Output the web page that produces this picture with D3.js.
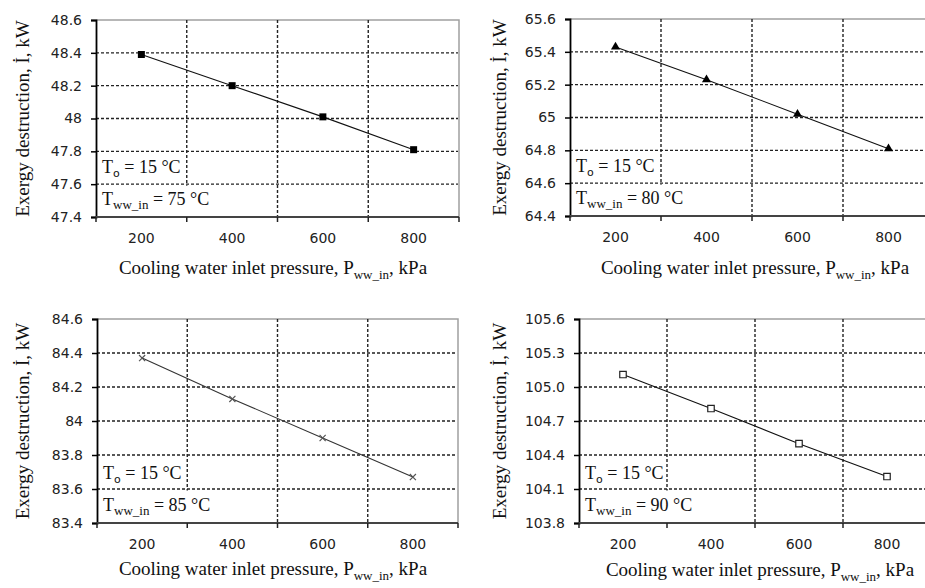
<!DOCTYPE html>
<html>
<head>
<meta charset="utf-8">
<script src="https://cdn.jsdelivr.net/npm/d3@7"></script>
<style>
  body { margin: 0; background: #fff; }
  svg { display: block; }
</style>
</head>
<body>
<svg></svg>
<script>
// pressures on the category axis, kPa
const pressures = ["200", "400", "600", "800"];

// exergy destruction (kW) for each cooling water inlet temperature
const exergy75 = [48.39, 48.20, 48.01, 47.81];
const exergy80 = [65.43, 65.23, 65.02, 64.81];
const exergy85 = [84.37, 84.13, 83.90, 83.67];
const exergy90 = [105.11, 104.81, 104.50, 104.21];

// y tick labels
const ticks75 = [47.4, 47.6, 47.8, 48, 48.2, 48.4, 48.6];
const ticks80 = [64.4, 64.6, 64.8, 65, 65.2, 65.4, 65.6];
const ticks85 = [83.4, 83.6, 83.8, 84, 84.2, 84.4, 84.6];
const ticks90 = [103.8, 104.1, 104.4, 104.7, 105.0, 105.3, 105.6];

const inletTemps = [75, 80, 85, 90];
const deadState = 15;

let width = 925,
  height = 588;

let svg = d3.select("svg").attr("width", width).attr("height", height);

let sans = "'DejaVu Sans', Verdana, sans-serif";
let serif = "'Liberation Serif', 'Times New Roman', serif";

let generalFmt = (d) => String(+d.toFixed(1));

// layout of the four panels
let panels = [
  { values: exergy75, ticks: ticks75, temp: inletTemps[0], fmt: generalFmt,
    left: 96, top: 20, w: 363, h: 197, marker: "square", titleX: 29, xTitle: 273, xTitleY: 57 },
  { values: exergy80, ticks: ticks80, temp: inletTemps[1], fmt: generalFmt,
    left: 570, top: 19, w: 364, h: 197, marker: "triangle", titleX: 506, xTitle: 755, xTitleY: 58 },
  { values: exergy85, ticks: ticks85, temp: inletTemps[2], fmt: generalFmt,
    left: 97, top: 319, w: 361, h: 204, marker: "times", titleX: 29, xTitle: 273, xTitleY: 52 },
  { values: exergy90, ticks: ticks90, temp: inletTemps[3], fmt: d3.format(".1f"),
    left: 579, top: 319, w: 352, h: 204, marker: "open", titleX: 506, xTitle: 760, xTitleY: 53 }
];

panels.forEach((p) => {
  let x = d3.scaleBand().domain(pressures).range([p.left, p.left + p.w]).padding(0);
  let y = d3.scaleLinear()
    .domain([p.ticks[0], p.ticks[p.ticks.length - 1]])
    .range([p.top + p.h, p.top]);

  let g = svg.append("g");
  let bottom = p.top + p.h;
  let right = p.left + p.w;

  // plot frame (top and right, gray)
  g.append("path")
    .attr("d", `M${p.left},${p.top}H${right}V${bottom}`)
    .attr("fill", "none")
    .attr("stroke", "#a0a0a0")
    .attr("stroke-width", 1.5);

  // horizontal dashed grid
  g.append("g")
    .selectAll("line")
    .data(p.ticks.slice(1, -1))
    .enter()
    .append("line")
    .attr("x1", p.left)
    .attr("x2", right - 1)
    .attr("y1", (d) => y(d))
    .attr("y2", (d) => y(d))
    .attr("stroke", "#222")
    .attr("stroke-width", 1.4)
    .attr("stroke-dasharray", "3,2");

  // vertical dashed grid at category boundaries
  let bounds = pressures.map((c) => x(c)).concat([x.range()[1]]);
  g.append("g")
    .selectAll("line")
    .data(bounds.slice(1, -1))
    .enter()
    .append("line")
    .attr("x1", (d) => d)
    .attr("x2", (d) => d)
    .attr("y1", p.top)
    .attr("y2", bottom)
    .attr("stroke", "#222")
    .attr("stroke-width", 1.4)
    .attr("stroke-dasharray", "3,2");

  // annotation text with white boxes
  let notes = g.append("g");
  let t1 = notes.append("text")
    .attr("x", p.left + 6)
    .attr("y", bottom - 44)
    .attr("fill", "#111")
    .style("font-family", serif)
    .style("font-size", "18px");
  t1.append("tspan").text("T");
  t1.append("tspan").attr("dy", 4).style("font-family", sans).style("font-size", "11px").text("o");
  t1.append("tspan").attr("dy", -4).text(" = " + deadState + " °C");

  let t2 = notes.append("text")
    .attr("x", p.left + 6)
    .attr("y", bottom - 12)
    .attr("fill", "#111")
    .style("font-family", serif)
    .style("font-size", "18px");
  t2.append("tspan").text("T");
  t2.append("tspan").attr("dy", 4).style("font-size", "13px").text("ww_in");
  t2.append("tspan").attr("dy", -4).text(" = " + p.temp + " °C");

  let b2 = t2.node().getBBox();
  notes.insert("rect", "text")
    .attr("x", p.left + 1)
    .attr("y", y(p.ticks[1]) + 1.5)
    .attr("width", b2.x + b2.width + 3 - p.left)
    .attr("height", bottom - y(p.ticks[1]) - 2.5)
    .attr("fill", "#fff");

  // data line and markers
  let pts = p.values.map((v, i) => [x(pressures[i]) + x.bandwidth() / 2, y(v)]);
  g.append("path")
    .attr("d", d3.line()(pts))
    .attr("fill", "none")
    .attr("stroke", p.marker === "times" ? "#333" : "#111")
    .attr("stroke-width", 1.1);

  let symType = {
    square: d3.symbolSquare,
    triangle: d3.symbolTriangle,
    times: d3.symbolTimes || d3.symbolX,
    open: d3.symbolSquare
  }[p.marker];
  let symSize = { square: 49, triangle: 36, times: 26, open: 42 }[p.marker];

  g.append("g")
    .selectAll("path")
    .data(pts)
    .enter()
    .append("path")
    .attr("transform", (d) => `translate(${d[0]},${d[1]})`)
    .attr("d", d3.symbol().type(symType).size(symSize))
    .attr("fill", p.marker === "open" ? "#fff" : p.marker === "times" ? "none" : "#000")
    .attr("stroke", p.marker === "times" ? "#555" : p.marker === "open" ? "#222" : "none")
    .attr("stroke-width", 1.2);

  // y axis
  let yAxis = g.append("g")
    .attr("transform", `translate(${p.left},0)`)
    .call(d3.axisLeft(y).tickValues(p.ticks).tickSize(5).tickPadding(9).tickFormat(p.fmt));
  yAxis.select(".domain").attr("stroke", "#000").attr("stroke-width", 1.8);
  yAxis.selectAll(".tick line").attr("stroke", "#000").attr("stroke-width", 1.5);
  yAxis.selectAll(".tick text")
    .style("font-family", sans)
    .style("font-size", "14px")
    .attr("fill", "#222");

  // x axis: labels at category centres, ticks at boundaries
  let xAxis = g.append("g")
    .attr("transform", `translate(0,${bottom})`)
    .call(d3.axisBottom(x).tickSize(0).tickPadding(16));
  xAxis.select(".domain").remove();
  xAxis.selectAll(".tick text")
    .style("font-family", sans)
    .style("font-size", "14px")
    .attr("fill", "#222");

  g.append("line")
    .attr("x1", p.left)
    .attr("x2", right)
    .attr("y1", bottom)
    .attr("y2", bottom)
    .attr("stroke", "#444")
    .attr("stroke-width", 2);

  g.append("g")
    .selectAll("line")
    .data(bounds)
    .enter()
    .append("line")
    .attr("x1", (d) => d)
    .attr("x2", (d) => d)
    .attr("y1", bottom)
    .attr("y2", bottom + 5)
    .attr("stroke", "#222")
    .attr("stroke-width", 1.5);

  // axis titles
  let xt = g.append("text")
    .attr("x", p.xTitle)
    .attr("y", bottom + p.xTitleY)
    .attr("text-anchor", "middle")
    .style("font-family", serif)
    .style("font-size", "19px")
    .attr("fill", "#111");
  xt.append("tspan").text("Cooling water inlet pressure, P");
  xt.append("tspan").attr("dy", 5).style("font-size", "13px").text("ww_in");
  xt.append("tspan").attr("dy", -5).text(", kPa");

  g.append("text")
    .attr("transform", `translate(${p.titleX},${p.top + p.h / 2}) rotate(-90)`)
    .attr("text-anchor", "middle")
    .style("font-family", serif)
    .style("font-size", "19px")
    .attr("fill", "#111")
    .text("Exergy destruction, İ, kW");
});
</script>
</body>
</html>
